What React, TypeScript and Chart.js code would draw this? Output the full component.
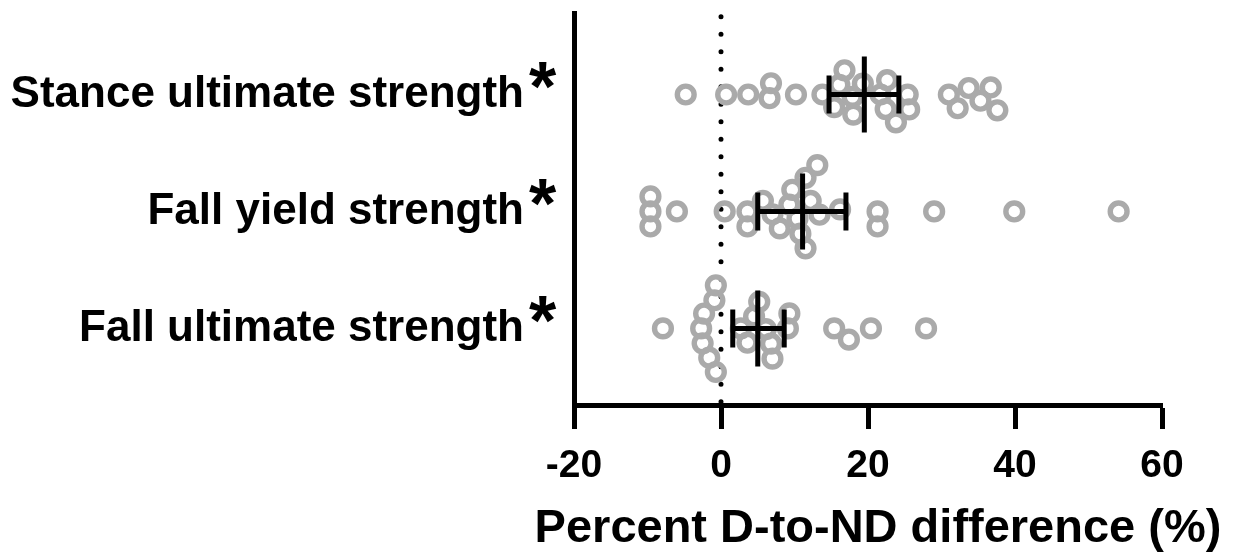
import React, { useEffect, useRef } from 'react';
import { Chart, registerables } from 'chart.js';

Chart.register(...registerables);

// ---- data ----
const categories = ['Stance ultimate strength', 'Fall yield strength', 'Fall ultimate strength'];
const significant = [true, true, true];

const stanceUltimate = [
  -4.8, 0.7, 3.7, 6.6, 6.8, 10.2, 13.8, 15.4, 16.1, 16.8, 17.9, 18.0, 19.3,
  21.7, 22.4, 22.6, 23.8, 25.4, 25.6, 31.0, 32.2, 33.7, 35.3, 36.7, 37.6,
];
const fallYield = [
  -9.6, -9.6, -9.6, -6.0, 0.5, 3.6, 3.6, 5.7, 7.0, 8.0, 9.3, 9.7, 10.4, 10.8,
  11.5, 11.5, 12.2, 13.1, 13.4, 16.2, 21.3, 21.3, 29.0, 39.9, 54.1,
];
const fallUltimate = [
  -7.9, -2.7, -2.5, -2.3, -1.6, -0.9, -0.7, -0.7, 2.7, 3.6, 4.5, 5.2, 6.1, 6.8,
  7.0, 9.1, 9.3, 15.4, 17.4, 20.4, 27.9,
];
const seriesValues = [stanceUltimate, fallYield, fallUltimate];

const means = [19.5, 11.1, 5.0];
const ciLow = [14.7, 5.0, 1.6];
const ciHigh = [24.2, 17.0, 8.6];

const xTicks = [-20, 0, 20, 40, 60];
const xTitle = 'Percent D-to-ND difference (%)';

// ---- styles ----
const FONT = '"Liberation Sans", Arial, Helvetica, sans-serif';
const GREY = 'rgb(170,170,170)';
const DX = 22; // px, horizontal beeswarm spacing
const DY = 15; // px, vertical beeswarm spacing

function swarm(vals: number[], toPx: (v: number) => number): number[] {
  const order = vals.map((_, i) => i).sort((a, b) => vals[a] - vals[b]);
  const placed: { x: number; y: number }[] = [];
  const out = new Array(vals.length).fill(0);
  const ok = (x: number, y: number) =>
    placed.every((p) => ((p.x - x) / DX) ** 2 + ((p.y - y) / DY) ** 2 >= 1 - 1e-6);
  for (const i of order) {
    const x = toPx(vals[i]);
    const cands = [0];
    for (const p of placed) {
      const dx = (x - p.x) / DX;
      if (Math.abs(dx) < 1) {
        const h = DY * Math.sqrt(1 - dx * dx);
        cands.push(p.y + h, p.y - h);
      }
    }
    cands.sort((a, b) => Math.abs(a) - Math.abs(b));
    let best = 0;
    for (const c of cands) {
      if (ok(x, c)) {
        best = c;
        break;
      }
    }
    placed.push({ x, y: best });
    out[i] = best;
  }
  return out;
}

const overlay = {
  id: 'overlay',
  beforeDatasetsDraw(chart: any) {
    const { ctx, chartArea } = chart;
    const xs = chart.scales.x;
    const x0 = xs.getPixelForValue(0);
    ctx.save();
    ctx.strokeStyle = '#000';
    ctx.lineWidth = 5;
    ctx.lineCap = 'round';
    ctx.setLineDash([0, 17.5]);
    ctx.beginPath();
    ctx.moveTo(x0, chartArea.top + 3);
    ctx.lineTo(x0, chartArea.bottom);
    ctx.stroke();
    ctx.restore();
  },
  afterDatasetsDraw(chart: any) {
    const { ctx } = chart;
    const xs = chart.scales.x;
    const ys = chart.scales.y;
    ctx.save();
    ctx.strokeStyle = '#000';
    ctx.lineWidth = 5;
    ctx.lineCap = 'butt';
    categories.forEach((_, i) => {
      const yc = ys.getPixelForValue(i);
      const xm = xs.getPixelForValue(means[i]);
      const xl = xs.getPixelForValue(ciLow[i]);
      const xh = xs.getPixelForValue(ciHigh[i]);
      ctx.beginPath();
      ctx.moveTo(xm, yc - 38);
      ctx.lineTo(xm, yc + 38);
      ctx.moveTo(xl, yc);
      ctx.lineTo(xh, yc);
      ctx.moveTo(xl, yc - 19);
      ctx.lineTo(xl, yc + 19);
      ctx.moveTo(xh, yc - 19);
      ctx.lineTo(xh, yc + 19);
      ctx.stroke();
    });
    ctx.restore();
  },
  afterDraw(chart: any) {
    const { ctx } = chart;
    const xs = chart.scales.x;
    const ys = chart.scales.y;
    ctx.save();
    ctx.fillStyle = '#000';
    ctx.textBaseline = 'alphabetic';
    // significance asterisks (superscript)
    ctx.font = `bold 70px ${FONT}`;
    ctx.textAlign = 'left';
    categories.forEach((_, i) => {
      if (!significant[i]) return;
      const yc = ys.getPixelForValue(i);
      ctx.fillText('*', ys.right - 45, yc + 17);
    });
    // x-axis title
    ctx.font = `bold 47px ${FONT}`;
    ctx.textAlign = 'center';
    ctx.fillText(xTitle, (xs.left + xs.right) / 2 + 10, 542);
    ctx.restore();
  },
};

export default function App() {
  const ref = useRef<HTMLCanvasElement | null>(null);
  useEffect(() => {
    document.body.style.margin = '0';
    const canvas = ref.current;
    if (!canvas) return;
    const chart = new Chart(canvas, {
      type: 'scatter',
      data: {
        datasets: seriesValues.map((vals, i) => ({
          label: categories[i],
          data: vals.map((v) => ({ x: v, y: i })),
          pointRadius: 8.4,
          pointHoverRadius: 8.4,
          borderWidth: 5.4,
          borderColor: GREY,
          backgroundColor: 'rgba(0,0,0,0)',
          pointStyle: 'circle',
          clip: false,
        })),
      },
      options: {
        responsive: false,
        animation: false,
        events: [],
        layout: { padding: { top: 12, right: 79, left: 0, bottom: 0 } },
        plugins: { legend: { display: false }, tooltip: { enabled: false } },
        scales: {
          x: {
            type: 'linear',
            min: -20,
            max: 60,
            afterBuildTicks: (s: any) => {
              s.ticks = xTicks.map((v) => ({ value: v }));
            },
            afterFit: (s: any) => {
              s.height = 151;
            },
            grid: {
              display: true,
              drawOnChartArea: false,
              drawTicks: true,
              tickLength: 24,
              tickWidth: 5,
              tickColor: '#000',
            },
            border: { display: true, color: '#000', width: 5 },
            ticks: {
              color: '#000',
              font: { family: FONT, weight: 'bold', size: 39 },
              padding: 14,
              maxRotation: 0,
            },
          },
          y: {
            type: 'linear',
            reverse: true,
            min: -0.69,
            max: 2.655,
            afterBuildTicks: (s: any) => {
              s.ticks = categories.map((_, i) => ({ value: i }));
            },
            afterFit: (s: any) => {
              s.width = 574;
              s.paddingTop = 0;
              s.paddingBottom = 0;
            },
            grid: { display: false },
            border: { display: true, color: '#000', width: 5 },
            ticks: {
              color: '#000',
              font: { family: FONT, weight: 'bold', size: 44 },
              padding: 42,
              callback: (v: any) => categories[v as number] ?? '',
            },
          },
        },
      },
      plugins: [overlay],
    });

    // beeswarm layout through the chart's own scales
    const xs: any = chart.scales.x;
    const ys: any = chart.scales.y;
    const pxPerY = Math.abs(ys.getPixelForValue(1) - ys.getPixelForValue(0));
    seriesValues.forEach((vals, i) => {
      const offs = swarm(vals, (v) => xs.getPixelForValue(v));
      (chart.data.datasets[i] as any).data = vals.map((v, k) => ({ x: v, y: i + offs[k] / pxPerY }));
    });
    chart.update('none');

    return () => chart.destroy();
  }, []);

  return (
    <div style={{ position: 'fixed', left: 0, top: 0, width: 1241, height: 556, background: '#fff' }}>
      <canvas ref={ref} width={1241} height={556} style={{ width: 1241, height: 556 }} />
    </div>
  );
}
